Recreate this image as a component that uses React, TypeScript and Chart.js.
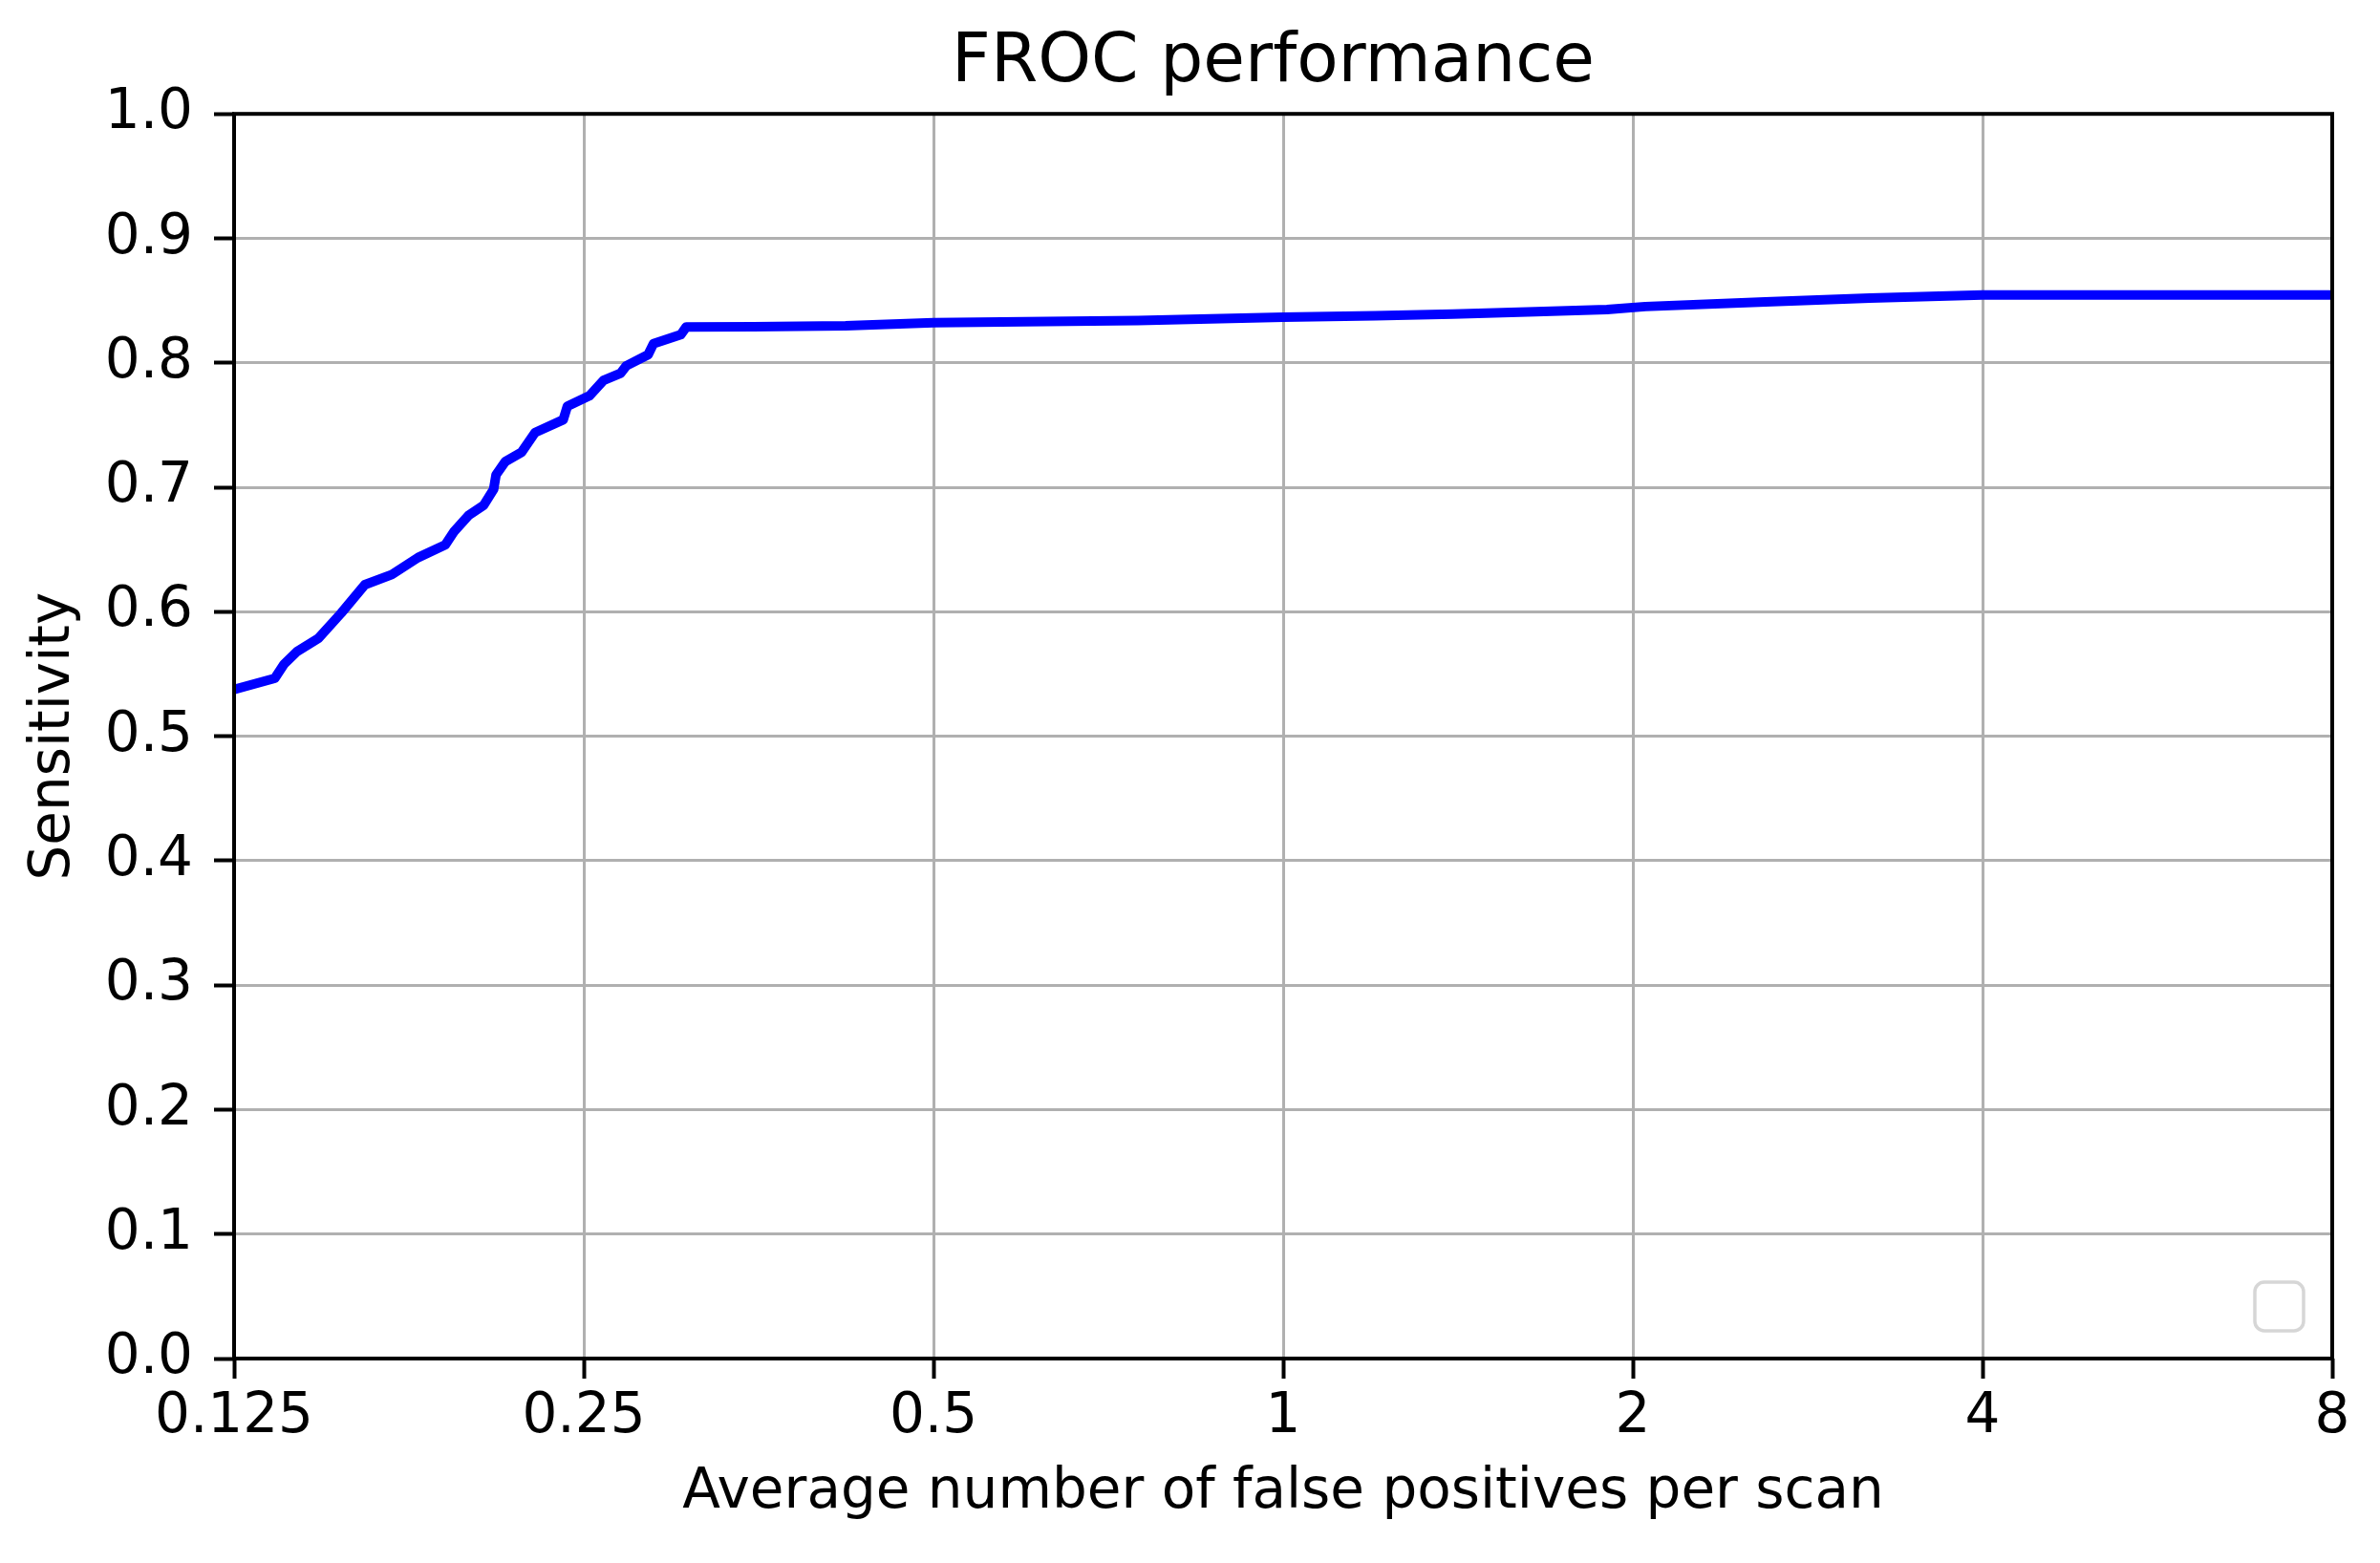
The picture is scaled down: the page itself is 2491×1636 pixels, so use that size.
import React, { useEffect, useRef } from "react";
import { Chart, registerables } from "chart.js";

Chart.register(...registerables);

// Average number of false positives per scan (x) and sensitivity (y)
const fpRates: number[] = [
  0.125, 0.1355, 0.138, 0.1416, 0.1478, 0.1545, 0.162, 0.1709, 0.18, 0.19,
  0.1934, 0.199, 0.205, 0.2091, 0.2101, 0.214, 0.221, 0.227, 0.24, 0.242,
  0.2528, 0.26, 0.269, 0.272, 0.284, 0.287, 0.303, 0.3063, 0.35, 0.42,
  0.5, 0.75, 1.0, 1.2, 1.4, 1.65, 1.9, 2.05, 2.6, 3.2, 4.0, 8.0,
];
const sensitivities: number[] = [
  0.5376, 0.5465, 0.5578, 0.568, 0.5788, 0.5987, 0.6217, 0.6299, 0.6435, 0.6538,
  0.6647, 0.6774, 0.6856, 0.6984, 0.71, 0.7207, 0.7282, 0.744, 0.7542, 0.765,
  0.7735, 0.7859, 0.7917, 0.7976, 0.8065, 0.8153, 0.8226, 0.8288, 0.829, 0.8298,
  0.8322, 0.834, 0.8366, 0.8378, 0.8392, 0.841, 0.8428, 0.8452, 0.849, 0.852,
  0.8545, 0.8545,
];
const xTicks: number[] = [0.125, 0.25, 0.5, 1, 2, 4, 8];
const xTickLabels: string[] = ["0.125", "0.25", "0.5", "1", "2", "4", "8"];

const TITLE = "FROC performance";
const X_LABEL = "Average number of false positives per scan";
const Y_LABEL = "Sensitivity";

const FONT = "'DejaVu Sans', 'Liberation Sans', sans-serif";

const framePlugin = {
  id: "framePlugin",
  afterLayout(chart: any) {
    // nudge the title centre slightly left, as in the reference
    if (chart.titleBlock) {
      chart.titleBlock.left -= 21;
    }
  },
  afterDatasetsDraw(chart: any) {
    const { ctx, chartArea } = chart;
    const { left, right, top, bottom } = chartArea;
    ctx.save();
    // spines
    ctx.strokeStyle = "#000";
    ctx.lineWidth = 4;
    ctx.lineJoin = "miter";
    ctx.strokeRect(left, top, right - left, bottom - top);
    // empty legend frame (bottom right)
    const size = 51;
    const bx = right - 30 - size;
    const by = bottom - 29 - size;
    ctx.strokeStyle = "#d6d6d6";
    ctx.lineWidth = 3.5;
    ctx.beginPath();
    ctx.roundRect(bx, by, size, size, 10);
    ctx.stroke();
    ctx.restore();
  },
};

export default function App() {
  const canvasRef = useRef<HTMLCanvasElement | null>(null);

  useEffect(() => {
    document.body.style.margin = "0";
    const canvas = canvasRef.current;
    if (!canvas) return;
    const points = fpRates.map((x, i) => ({ x, y: sensitivities[i] }));
    const chart = new Chart(canvas, {
      type: "line",
      data: {
        datasets: [
          {
            data: points,
            borderColor: "#0000ff",
            borderWidth: 10,
            pointRadius: 0,
            tension: 0,
            fill: false,
            borderJoinStyle: "round",
            borderCapStyle: "butt",
          },
        ],
      },
      options: {
        animation: false,
        responsive: false,
        devicePixelRatio: 1,
        layout: { padding: { left: 0, right: 50, top: 0, bottom: 0 } },
        plugins: {
          legend: { display: false },
          tooltip: { enabled: false },
          title: {
            display: true,
            text: TITLE,
            fullSize: false,
            color: "#000",
            font: { family: FONT, size: 71, weight: "normal", lineHeight: 1.2 },
            padding: { top: 24, bottom: 10 },
          },
        },
        scales: {
          x: {
            type: "logarithmic",
            min: 0.125,
            max: 8,
            afterBuildTicks: (scale: any) => {
              scale.ticks = xTicks.map((v) => ({ value: v }));
            },
            afterFit: (scale: any) => {
              scale.height = 214;
            },
            ticks: {
              autoSkip: false,
              maxRotation: 0,
              color: "#000",
              padding: 6,
              font: { family: FONT, size: 58 },
              callback: (value: any) => {
                const idx = xTicks.indexOf(Number(value));
                return idx >= 0 ? xTickLabels[idx] : "";
              },
            },
            grid: {
              color: "#b0b0b0",
              lineWidth: 3,
              drawTicks: true,
              tickLength: 21,
              tickColor: "#000",
              tickWidth: 4,
            },
            border: { display: false },
            title: {
              display: true,
              text: X_LABEL,
              color: "#000",
              font: { family: FONT, size: 58, lineHeight: 1.2 },
              padding: { top: 0, bottom: 38 },
            },
          },
          y: {
            type: "linear",
            min: 0,
            max: 1,
            afterFit: (scale: any) => {
              scale.width = 245;
            },
            ticks: {
              stepSize: 0.1,
              color: "#000",
              padding: 22,
              font: { family: FONT, size: 58 },
              callback: (value: any) => Number(value).toFixed(1),
            },
            grid: {
              color: "#b0b0b0",
              lineWidth: 3,
              drawTicks: true,
              tickLength: 21,
              tickColor: "#000",
              tickWidth: 4,
            },
            border: { display: false },
            title: {
              display: true,
              text: Y_LABEL,
              color: "#000",
              font: { family: FONT, size: 58, lineHeight: 1.2 },
              padding: { top: 22, bottom: 0 },
            },
          },
        },
      },
      plugins: [framePlugin],
    } as any);
    return () => {
      chart.destroy();
    };
  }, []);

  return (
    <canvas
      ref={canvasRef}
      width={2491}
      height={1636}
      style={{ display: "block", width: "2491px", height: "1636px" }}
    />
  );
}
